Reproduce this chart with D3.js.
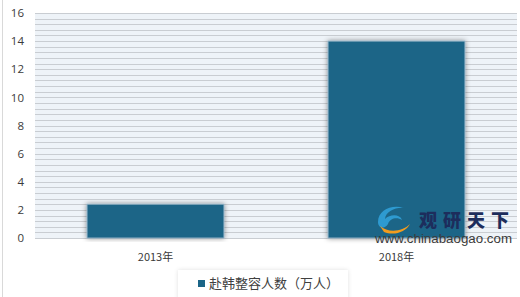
<!DOCTYPE html>
<html><head><meta charset="utf-8">
<script src="https://cdn.jsdelivr.net/npm/d3@7"></script>
<style>html,body{margin:0;padding:0;background:#fff;overflow:hidden}</style>
</head><body>
<svg id="c" width="520" height="297"></svg>
<script>
const categories = ["2013年", "2018年"];
const values = [2.4, 14];
const yTicks = [0, 2, 4, 6, 8, 10, 12, 14, 16];
const seriesName = "赴韩整容人数（万人）";

const svg = d3.select("#c");
const W = 520, H = 297;
const m = {left: 35, right: 3, top: 13, bottom: 59};
const x = d3.scaleBand().domain(categories).range([m.left, W - m.right]).paddingInner(0.432).paddingOuter(0.216);
const y = d3.scaleLinear().domain([0, 16]).range([H - m.bottom, m.top]);

const defs = svg.append("defs");
const f = defs.append("filter").attr("id", "sh").attr("x", "-10%").attr("y", "-10%").attr("width", "120%").attr("height", "120%");
f.append("feDropShadow").attr("dx", 0).attr("dy", 0).attr("stdDeviation", 2.5).attr("flood-color", "#000").attr("flood-opacity", 0.45);
const f2 = defs.append("filter").attr("id", "sh2").attr("x", "-10%").attr("y", "-30%").attr("width", "120%").attr("height", "160%");
f2.append("feDropShadow").attr("dx", 0).attr("dy", 0).attr("stdDeviation", 2).attr("flood-color", "#000").attr("flood-opacity", 0.12);

// left border line
svg.append("line").attr("x1", 2.5).attr("x2", 2.5).attr("y1", 0).attr("y2", H).attr("stroke", "#d9d9d9");

// plot background
svg.append("rect").attr("x", m.left).attr("y", m.top).attr("width", W - m.right - m.left).attr("height", y(0) - m.top).attr("fill", "#eef3f8");

// grid lines every 0.4
const grid = d3.range(0, 16.001, 0.4);
svg.append("g").selectAll("line").data(grid).join("line")
  .attr("x1", m.left).attr("x2", W - m.right)
  .attr("y1", d => Math.round(y(d)) + 0.5).attr("y2", d => Math.round(y(d)) + 0.5)
  .attr("stroke", "#c9cdd2").attr("stroke-width", 1.2);

// y axis
const ya = svg.append("g").attr("transform", `translate(${m.left - 11},0)`)
  .call(d3.axisLeft(y).tickValues(yTicks).tickSize(0).tickPadding(0));
ya.select(".domain").remove();
ya.selectAll("text").attr("font-family", "Open Sans, Liberation Sans, sans-serif").attr("font-size", 11.5).attr("fill", "#3a3a3a");

// bars
svg.append("g").selectAll("rect").data(values).join("rect")
  .attr("x", (d, i) => x(categories[i]))
  .attr("y", d => y(d))
  .attr("width", x.bandwidth())
  .attr("height", d => y(0) - y(d))
  .attr("fill", "#1b6587").attr("stroke", "#8fb0c4").attr("stroke-width", 1)
  .attr("filter", "url(#sh)");

// x axis labels
const xa = svg.append("g").attr("transform", `translate(0,${y(0) + 15})`)
  .call(d3.axisBottom(x).tickSize(0).tickPadding(0));
xa.select(".domain").remove();
xa.selectAll("text").attr("font-family", "Noto Sans CJK SC, sans-serif").attr("font-size", 11).attr("fill", "#3a3a3a");

// watermark
const wm = svg.append("g");
wm.append("path").attr("d", "M378,222 C378,210 392,204 404,208 C396,207 386,211 385,219 C390,214 400,214 402,220 C397,217 390,218 388,224 C384,230 378,228 378,222 Z").attr("fill", "#2e9ad0");
wm.append("path").attr("d", "M380,226 C388,233 402,232 410,224 C406,232 394,236 384,232 Z").attr("fill", "#f39c1e");
wm.append("text").attr("x", 419).attr("y", 227).attr("font-family", "Noto Sans CJK SC, sans-serif").attr("font-weight", 900).attr("font-size", 18).attr("fill", "#1d2d5c").attr("textLength", 90).attr("lengthAdjust", "spacing").text("观研天下");
wm.append("text").attr("x", 375).attr("y", 243).attr("font-family", "Liberation Sans, Arial, sans-serif").attr("font-size", 12.5).attr("fill", "#3a3a3a").attr("textLength", 137).attr("lengthAdjust", "spacingAndGlyphs").text("www.chinabaogao.com");

// legend
const lg = svg.append("g");
lg.append("rect").attr("x", 178).attr("y", 270).attr("width", 170).attr("height", 40).attr("fill", "#fff").attr("filter", "url(#sh2)");
lg.append("rect").attr("x", 198).attr("y", 280).attr("width", 7).attr("height", 7).attr("fill", "#1b6587");
lg.append("text").attr("x", 209).attr("y", 288).attr("font-family", "Noto Sans CJK SC, sans-serif").attr("font-size", 13).attr("fill", "#404040").text(seriesName);
</script>
</body></html>
